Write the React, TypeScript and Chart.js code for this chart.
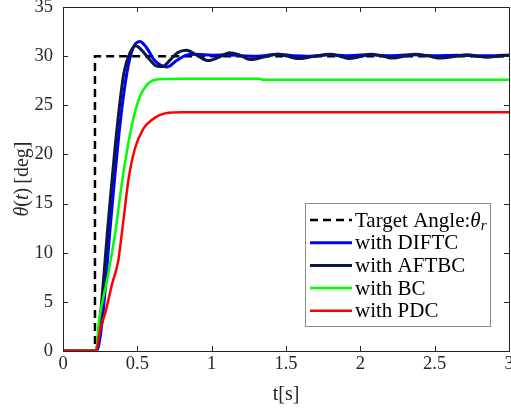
import React, { useEffect, useRef } from 'react';
import { Chart, registerables } from 'chart.js';

Chart.register(...registerables);

const FONT = '"Liberation Serif", "DejaVu Serif", "Noto Serif", "Times New Roman", Times, serif';
const AXIS_COLOR = '#262626';

// axis ranges / ticks
const xMin = 0;
const xMax = 3;
const xStep = 0.5;
const yMin = 0;
const yMax = 35;
const yStep = 5;

// Target angle (step)
const targetT = [0, 0.215, 0.215, 3.0];
const targetY = [0, 0, 30, 30];

// with DIFTC
const diftcT = [0, 0.225, 0.263, 0.32, 0.383, 0.43, 0.47, 0.518, 0.56, 0.62, 0.70, 0.76, 0.83, 0.9, 1.0, 1.1, 1.2, 1.3, 1.45, 1.55, 1.65, 1.8, 1.9, 2.05, 2.2, 2.35, 2.5, 2.65, 2.8, 2.9, 3.0];
const diftcY = [0, 0, 3.0, 13.0, 23.0, 28.3, 30.8, 31.5, 30.9, 29.5, 28.9, 29.5, 30.1, 30.2, 30.1, 30.15, 30.05, 30.0, 30.2, 30.05, 30.0, 30.15, 30.05, 30.15, 30.05, 30.15, 30.05, 30.1, 30.05, 30.05, 30.1];

// with AFTBC
const aftbcT = [0, 0.222, 0.249, 0.305, 0.368, 0.41, 0.45, 0.49, 0.53, 0.58, 0.63, 0.67, 0.72, 0.77, 0.83, 0.9, 0.975, 1.05, 1.12, 1.19, 1.26, 1.35, 1.44, 1.51, 1.58, 1.68, 1.8, 1.86, 1.92, 2.0, 2.07, 2.15, 2.22, 2.3, 2.37, 2.46, 2.54, 2.63, 2.72, 2.79, 2.85, 2.93, 3.0];
const aftbcY = [0, 0, 3.2, 13.2, 23.3, 28.3, 30.3, 31.05, 30.6, 29.7, 29.0, 28.95, 29.6, 30.35, 30.6, 30.1, 29.55, 29.9, 30.35, 30.1, 29.65, 29.9, 30.2, 30.0, 29.75, 29.95, 30.2, 30.0, 29.75, 29.95, 30.2, 30.0, 29.8, 30.0, 30.2, 30.0, 29.8, 29.95, 30.15, 30.0, 29.9, 30.0, 30.1];

// with BC
const bcT = [0, 0.222, 0.242, 0.30, 0.35, 0.40, 0.45, 0.484, 0.52, 0.56, 0.60, 0.65, 0.8, 1.32, 1.34, 3.0];
const bcY = [0, 0, 3.0, 7.5, 11.9, 17.5, 22.0, 24.3, 26.0, 27.0, 27.5, 27.65, 27.7, 27.7, 27.6, 27.6];

// with PDC
const pdcT = [0, 0.222, 0.25, 0.283, 0.33, 0.372, 0.40, 0.44, 0.484, 0.54, 0.597, 0.65, 0.71, 0.8, 3.0];
const pdcY = [0, 0, 2.2, 3.8, 6.8, 9.2, 12.5, 17.4, 20.6, 22.6, 23.5, 24.0, 24.25, 24.3, 24.3];

const seriesLabels = ['Target Angle:', 'with DIFTC', 'with AFTBC', 'with BC', 'with PDC'];
const seriesColors = ['#000000', '#0000ff', '#0b1a45', '#00ff00', '#ff0000'];

const toPoints = (t: number[], y: number[]) => t.map((x, i) => ({ x, y: y[i] }));

const overlayPlugin = {
  id: 'matlabOverlay',
  afterDraw(chart: any) {
    const { ctx, chartArea } = chart;
    const { left, right, top, bottom } = chartArea;
    const xs = chart.scales.x;
    const ys = chart.scales.y;
    ctx.save();
    // box
    ctx.strokeStyle = AXIS_COLOR;
    ctx.lineWidth = 1;
    ctx.setLineDash([]);
    ctx.strokeRect(Math.round(left) + 0.5, Math.round(top) + 0.5, Math.round(right) - Math.round(left), Math.round(bottom) - Math.round(top));
    // inward ticks
    const tl = 5;
    ctx.beginPath();
    for (let v = xMin; v <= xMax + 1e-9; v += xStep) {
      const px = Math.round(xs.getPixelForValue(v)) + 0.5;
      ctx.moveTo(px, bottom);
      ctx.lineTo(px, bottom - tl);
      ctx.moveTo(px, top);
      ctx.lineTo(px, top + tl);
    }
    for (let v = yMin; v <= yMax + 1e-9; v += yStep) {
      const py = Math.round(ys.getPixelForValue(v)) + 0.5;
      ctx.moveTo(left, py);
      ctx.lineTo(left + tl, py);
      ctx.moveTo(right, py);
      ctx.lineTo(right - tl, py);
    }
    ctx.stroke();

    // y-axis title with italic symbols
    const yTitleParts = [
      { t: 'θ', it: true },
      { t: '(', it: false },
      { t: 't', it: true },
      { t: ')', it: false },
      { t: '\u2009[deg]', it: false },
    ];
    const tsize = 20;
    ctx.fillStyle = AXIS_COLOR;
    ctx.textBaseline = 'middle';
    ctx.textAlign = 'left';
    let total = 0;
    for (const p of yTitleParts) {
      ctx.font = `${p.it ? 'italic ' : ''}${tsize}px ${FONT}`;
      total += ctx.measureText(p.t).width;
    }
    ctx.translate(22.5, (top + bottom) / 2);
    ctx.rotate(-Math.PI / 2);
    let cx = -total / 2;
    for (const p of yTitleParts) {
      ctx.font = `${p.it ? 'italic ' : ''}${tsize}px ${FONT}`;
      ctx.fillText(p.t, cx, 0);
      cx += ctx.measureText(p.t).width;
    }
    ctx.restore();

    // legend
    ctx.save();
    const bx = 305, by = 203, bw = 185, bh = 123;
    ctx.fillStyle = '#ffffff';
    ctx.fillRect(bx, by, bw, bh);
    ctx.strokeStyle = '#8c8c8c';
    ctx.lineWidth = 1;
    ctx.strokeRect(bx + 0.5, by + 0.5, bw, bh);
    const lsize = 21;
    const rowY0 = 220;
    const rowH = 22.7;
    chart.data.datasets.forEach((ds: any, i: number) => {
      const yy = rowY0 + i * rowH;
      ctx.strokeStyle = ds.borderColor;
      ctx.lineWidth = ds.borderWidth;
      ctx.setLineDash(ds.borderDash || []);
      ctx.beginPath();
      ctx.moveTo(310, yy);
      ctx.lineTo(352, yy);
      ctx.stroke();
      ctx.setLineDash([]);
      ctx.fillStyle = '#000000';
      ctx.textBaseline = 'middle';
      ctx.textAlign = 'left';
      ctx.font = `${lsize}px ${FONT}`;
      const label = seriesLabels[i];
      ctx.fillText(label, 355, yy + 1);
      if (i === 0) {
        let xx = 355 + ctx.measureText(label).width;
        ctx.font = `italic ${lsize}px ${FONT}`;
        ctx.fillText('θ', xx, yy + 1);
        xx += ctx.measureText('θ').width;
        ctx.font = `italic ${Math.round(lsize * 0.7)}px ${FONT}`;
        ctx.fillText('r', xx, yy + 6);
      }
    });
    ctx.restore();
  },
};

export default function App() {
  const canvasRef = useRef<HTMLCanvasElement | null>(null);

  useEffect(() => {
    if (!canvasRef.current) return;
    const mk = (i: number, t: number[], y: number[], extra: any) => ({
      label: seriesLabels[i],
      data: toPoints(t, y),
      borderColor: seriesColors[i],
      backgroundColor: seriesColors[i],
      pointRadius: 0,
      fill: false,
      ...extra,
    });
    const chart = new Chart(canvasRef.current, {
      type: 'line',
      data: {
        datasets: [
          mk(0, targetT, targetY, { borderWidth: 2.5, borderDash: [8, 5], tension: 0, order: 5 }),
          mk(1, diftcT, diftcY, { borderWidth: 3, cubicInterpolationMode: 'monotone', order: 4 }),
          mk(2, aftbcT, aftbcY, { borderWidth: 3, cubicInterpolationMode: 'monotone', order: 3 }),
          mk(3, bcT, bcY, { borderWidth: 2.5, cubicInterpolationMode: 'monotone', order: 2 }),
          mk(4, pdcT, pdcY, { borderWidth: 2.5, cubicInterpolationMode: 'monotone', order: 1 }),
        ],
      },
      options: {
        animation: false,
        responsive: false,
        devicePixelRatio: 1,
        layout: { padding: { left: 0, right: 2, top: 7, bottom: 0 } },
        plugins: { legend: { display: false }, tooltip: { enabled: false } },
        scales: {
          x: {
            type: 'linear',
            min: xMin,
            max: xMax,
            ticks: { stepSize: xStep, color: AXIS_COLOR, font: { family: FONT, size: 18.5 }, padding: 2, maxRotation: 0, callback: (v: any) => String(Number(v)) },
            grid: { display: false, drawTicks: false },
            border: { display: false },
            title: { display: true, text: 't[s]', color: AXIS_COLOR, font: { family: FONT, size: 20 }, padding: { top: 0, bottom: 3 } },
            afterFit: (s: any) => { s.height = 59; s.paddingLeft = 0; s.paddingRight = 0; },
          },
          y: {
            type: 'linear',
            min: yMin,
            max: yMax,
            ticks: { stepSize: yStep, color: AXIS_COLOR, font: { family: FONT, size: 18.5 }, padding: 10, callback: (v: any) => String(Number(v)) },
            grid: { display: false, drawTicks: false },
            border: { display: false },
            afterFit: (s: any) => { s.width = 63; s.paddingTop = 0; s.paddingBottom = 0; },
          },
        },
      },
      plugins: [overlayPlugin],
    } as any);
    let alive = true;
    const fontsApi: any = (document as any).fonts;
    if (fontsApi && fontsApi.load) {
      Promise.all([
        fontsApi.load('20px "Liberation Serif"'),
        fontsApi.load('italic 20px "Liberation Serif"'),
      ]).then(() => { if (alive) chart.update(); }).catch(() => {});
    }
    return () => { alive = false; chart.destroy(); };
  }, []);

  return (
    <div style={{ position: 'absolute', left: 0, top: 0, width: 511, height: 410, background: '#fff' }}>
      <span style={{ position: 'absolute', left: -1000, top: 0, fontFamily: '"Liberation Serif"' }}>
        a<i>θ</i>
      </span>
      <canvas ref={canvasRef} width={511} height={410} style={{ width: 511, height: 410, display: 'block' }} />
    </div>
  );
}
